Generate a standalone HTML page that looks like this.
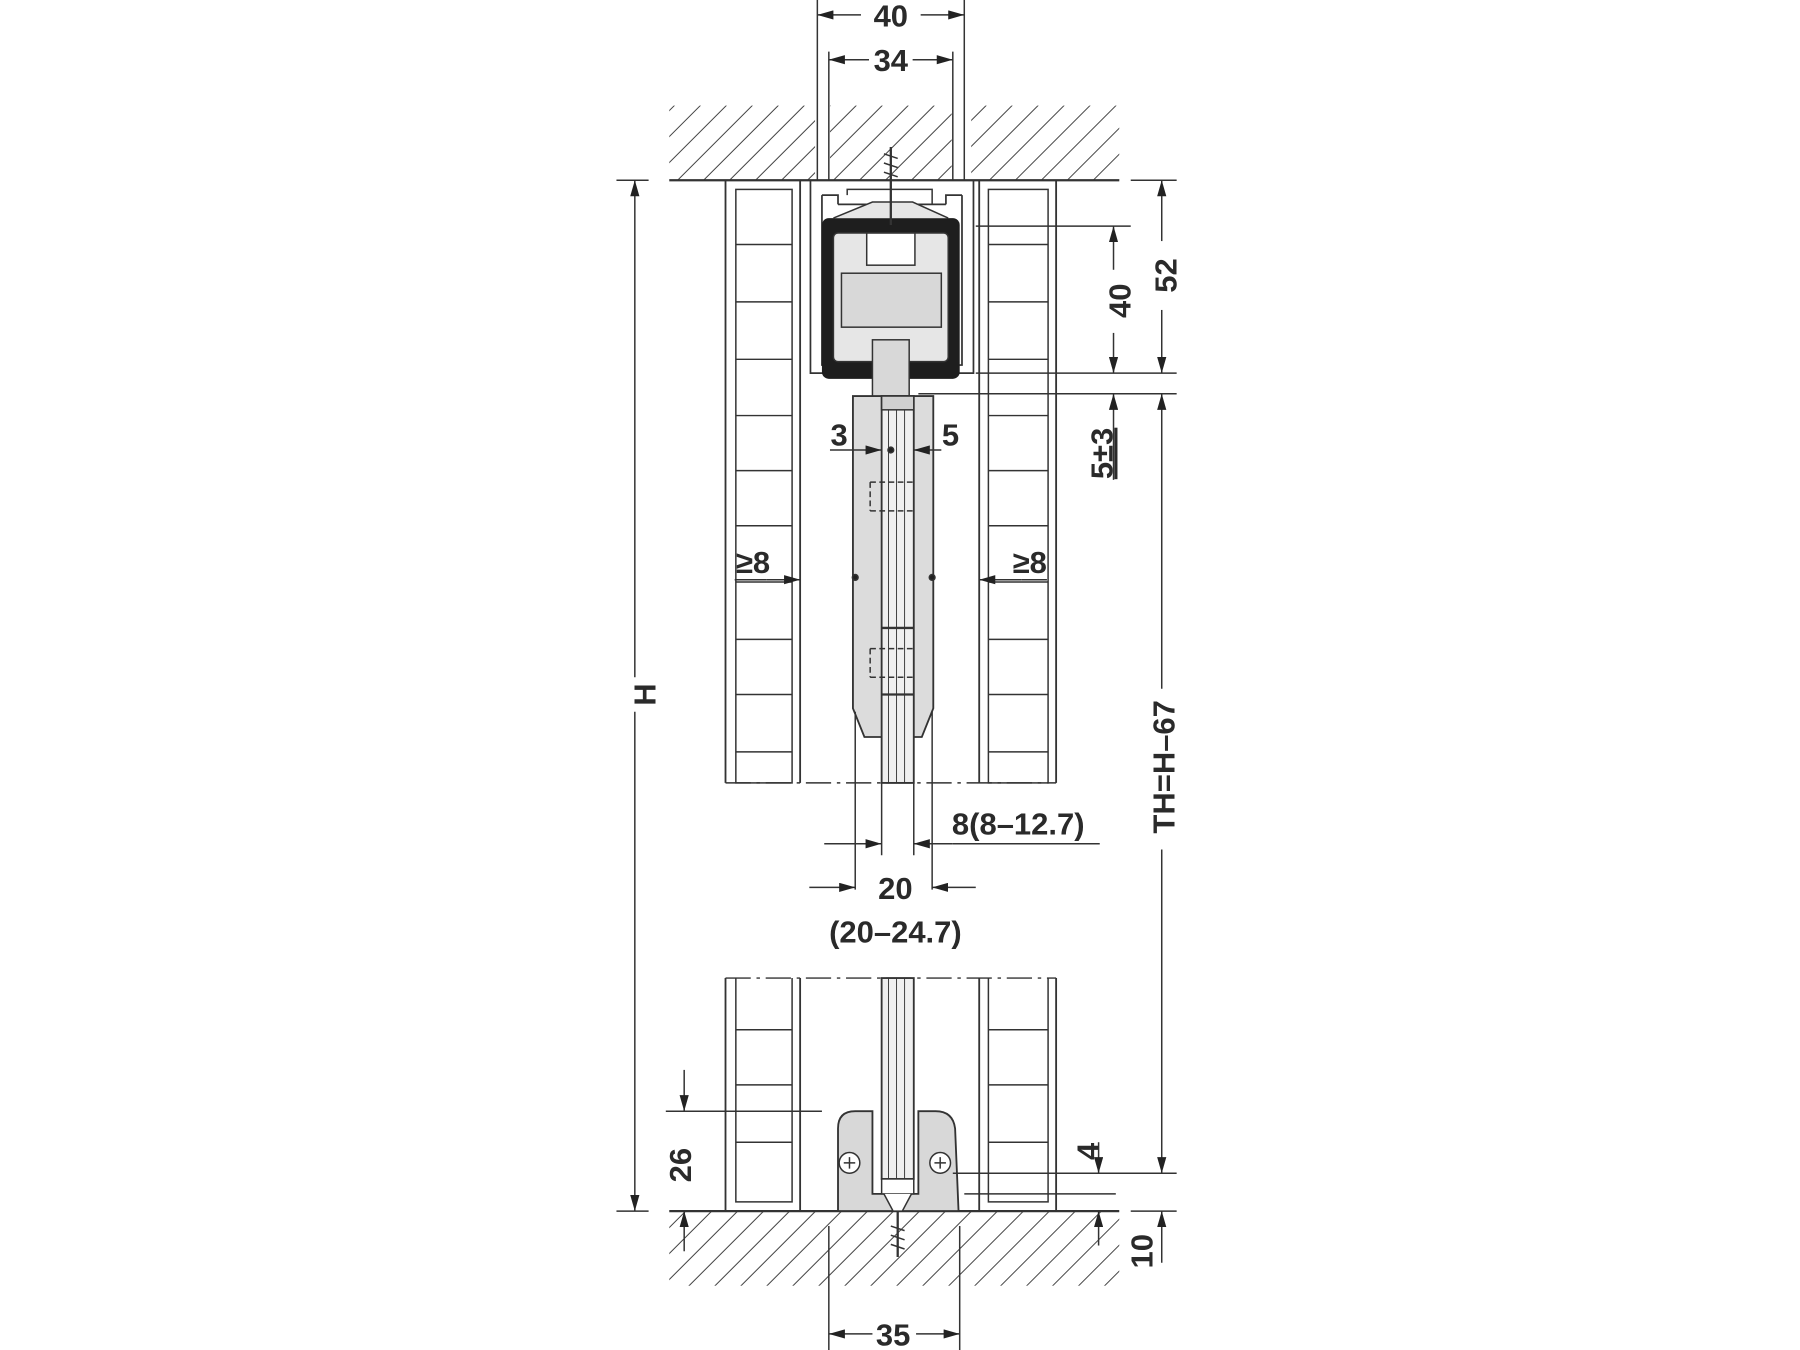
<!DOCTYPE html>
<html><head><meta charset="utf-8"><style>
html,body{margin:0;padding:0;background:#fff}
svg{display:block}
text{font-family:"Liberation Sans",sans-serif;font-weight:900;fill:#2a2a2a;font-size:27px}
</style></head><body>
<svg width="1800" height="1350" viewBox="0 0 1568 1176" xmlns="http://www.w3.org/2000/svg">
<defs>
<pattern id="h" patternUnits="userSpaceOnUse" width="16" height="16" patternTransform="rotate(45)">
<line x1="0" y1="0" x2="0" y2="16" stroke="#333" stroke-width="1.6"/>
</pattern>
<marker id="a" markerWidth="14" markerHeight="8" refX="14" refY="4" orient="auto" markerUnits="userSpaceOnUse">
<path d="M0,0 L14,4 L0,8 z" fill="#222"/></marker>
</defs>
<g stroke="#333" fill="none" stroke-width="1.3">
<rect x="583" y="92" width="127" height="65" fill="url(#h)" stroke="none"/>
<rect x="723" y="92" width="106" height="65" fill="url(#h)" stroke="none"/>
<rect x="846" y="92" width="129" height="65" fill="url(#h)" stroke="none"/>
<line x1="583" y1="157" x2="975" y2="157" stroke-width="2"/>
<rect x="583" y="1055" width="392" height="65" fill="url(#h)" stroke="none"/>
<line x1="583" y1="1055" x2="975" y2="1055" stroke-width="2"/>
<line x1="712" y1="0" x2="712" y2="157"/><line x1="840" y1="0" x2="840" y2="157"/>
<line x1="722" y1="45" x2="722" y2="157"/><line x1="830" y1="45" x2="830" y2="157"/>
<line x1="750" y1="13" x2="712" y2="13" marker-end="url(#a)"/><line x1="802" y1="13" x2="840" y2="13" marker-end="url(#a)"/>
<line x1="757" y1="52" x2="722" y2="52" marker-end="url(#a)"/><line x1="795" y1="52" x2="830" y2="52" marker-end="url(#a)"/>
<line x1="537" y1="157" x2="565" y2="157"/><line x1="537" y1="1055" x2="565" y2="1055"/>
<line x1="553" y1="590" x2="553" y2="157" marker-end="url(#a)"/><line x1="553" y1="620" x2="553" y2="1055" marker-end="url(#a)"/>
<g stroke-width="1.6">
<line x1="632" y1="157" x2="632" y2="682"/><line x1="697" y1="157" x2="697" y2="682"/>
<line x1="853" y1="157" x2="853" y2="682"/><line x1="920" y1="157" x2="920" y2="682"/>
<line x1="632" y1="852" x2="632" y2="1055"/><line x1="697" y1="852" x2="697" y2="1055"/>
<line x1="853" y1="852" x2="853" y2="1055"/><line x1="920" y1="852" x2="920" y2="1055"/>
</g>
<rect x="641" y="165" width="49" height="517"/><rect x="861" y="165" width="52" height="517"/>
<path d="M641 213H690M641 263H690M641 313H690M641 362H690M641 410H690M641 458H690M641 507H690M641 557H690M641 605H690M641 655H690"/>
<path d="M861 213H913M861 263H913M861 313H913M861 362H913M861 410H913M861 458H913M861 507H913M861 557H913M861 605H913M861 655H913"/>
<path d="M641 852V1047H690V852M641 897H690M641 945H690M641 995H690"/>
<path d="M861 852V1047H913V852M861 897H913M861 945H913M861 995H913"/>
<line x1="632" y1="682" x2="920" y2="682" stroke-dasharray="22,5,3,5"/>
<line x1="632" y1="852" x2="920" y2="852" stroke-dasharray="22,5,3,5"/>
<path d="M706 157V325H848V157M716 170V318H838V170M716 170H730V178M838 170H824V178M730 178H824" stroke-width="1.5"/>
<path d="M738 170V165H812V178" />
<rect x="716" y="190" width="120" height="140" rx="6" fill="#1e1e1e" stroke="none"/>
<rect x="726" y="203" width="100" height="112" rx="4" fill="#e6e6e6"/>
<path d="M726 190L760 176H795L826 190" fill="#e6e6e6"/>
<rect x="755" y="203" width="42" height="28" fill="#fff"/>
<rect x="733" y="238" width="87" height="47" fill="#d8d8d8"/>
<rect x="760" y="296" width="32" height="50" fill="#d8d8d8"/>
<path d="M776 128V196" stroke-width="2"/>
<path d="M770 134l12 4M770 142l12 4M770 150l12 4" />
<path d="M743 345H813V617L803 642H753L743 617Z" fill="#dcdcdc" stroke-width="1.6"/>
<rect x="768" y="345" width="28" height="337" fill="#efefef" stroke-width="1.6"/>
<path d="M774 355V682M781 355V682M788 355V682" stroke-width="0.8"/>
<rect x="768" y="345" width="28" height="12" fill="#d0d0d0"/>
<path d="M768 547H796M768 605H796" stroke-width="2"/>
<path d="M758 420h40M758 445h40M758 420v25M758 565h40M758 590h40M758 565v25" stroke-dasharray="5,3"/>
<circle cx="745" cy="503" r="2.5" fill="#222"/><circle cx="812" cy="503" r="2.5" fill="#222"/><circle cx="776" cy="392" r="2.5" fill="#222"/>
<line x1="723" y1="392" x2="768" y2="392" marker-end="url(#a)"/><line x1="820" y1="392" x2="796" y2="392" marker-end="url(#a)"/>
<line x1="668" y1="505" x2="697" y2="505" marker-end="url(#a)"/><line x1="890" y1="505" x2="853" y2="505" marker-end="url(#a)"/>
<line x1="640" y1="505" x2="668" y2="505"/><line x1="890" y1="505" x2="912" y2="505"/>
<path d="M768 682V745M796 682V745M745 620V775M812 620V775"/>
<line x1="718" y1="735" x2="745" y2="735"/><line x1="720" y1="735" x2="768" y2="735" marker-end="url(#a)"/>
<line x1="830" y1="735" x2="796" y2="735" marker-end="url(#a)"/><line x1="830" y1="735" x2="958" y2="735"/>
<line x1="705" y1="773" x2="745" y2="773" marker-end="url(#a)"/><line x1="850" y1="773" x2="812" y2="773" marker-end="url(#a)"/>
<path d="M730 1055V983Q730 968 745 968H760V1040H800V968H815Q830 968 832 983L835 1055Z" fill="#d8d8d8" stroke-width="1.6"/>
<rect x="768" y="852" width="28" height="175" fill="#efefef" stroke-width="1.6"/>
<path d="M774 852V1027M781 852V1027M788 852V1027" stroke-width="0.8"/>
<rect x="768" y="1027" width="28" height="13" fill="#fff"/>
<path d="M770 1040L778 1055H786L794 1040" fill="#fff"/>
<line x1="782" y1="1055" x2="782" y2="1095" stroke-width="2"/>
<path d="M776 1068l12 4M776 1076l12 4M776 1084l12 4"/>
<circle cx="740" cy="1013" r="9" fill="#fff"/><path d="M735 1013h10M740 1008v10"/>
<circle cx="819" cy="1013" r="9" fill="#fff"/><path d="M814 1013h10M819 1008v10"/>
<line x1="580" y1="968" x2="716" y2="968"/>
<line x1="596" y1="932" x2="596" y2="968" marker-end="url(#a)"/><line x1="596" y1="1090" x2="596" y2="1055" marker-end="url(#a)"/>
<line x1="722" y1="1068" x2="722" y2="1176"/><line x1="836" y1="1068" x2="836" y2="1176"/>
<line x1="760" y1="1162" x2="722" y2="1162" marker-end="url(#a)"/><line x1="798" y1="1162" x2="836" y2="1162" marker-end="url(#a)"/>
<line x1="850" y1="197" x2="985" y2="197"/>
<line x1="985" y1="157" x2="1025" y2="157"/>
<line x1="850" y1="325" x2="1025" y2="325"/>
<line x1="800" y1="343" x2="1025" y2="343"/>
<line x1="970" y1="235" x2="970" y2="197" marker-end="url(#a)"/><line x1="970" y1="290" x2="970" y2="325" marker-end="url(#a)"/>
<line x1="1012" y1="210" x2="1012" y2="157" marker-end="url(#a)"/><line x1="1012" y1="270" x2="1012" y2="325" marker-end="url(#a)"/>
<line x1="970" y1="418" x2="970" y2="343" marker-end="url(#a)"/>
<line x1="1012" y1="600" x2="1012" y2="343" marker-end="url(#a)"/><line x1="1012" y1="740" x2="1012" y2="1022" marker-end="url(#a)"/>
<line x1="830" y1="1022" x2="1025" y2="1022"/>
<line x1="840" y1="1040" x2="972" y2="1040"/>
<line x1="957" y1="995" x2="957" y2="1022" marker-end="url(#a)"/><line x1="957" y1="1085" x2="957" y2="1055" marker-end="url(#a)"/>
<line x1="985" y1="1055" x2="1025" y2="1055"/>
<line x1="1012" y1="1100" x2="1012" y2="1055" marker-end="url(#a)"/>
</g>
<g text-anchor="middle">
<text x="776" y="23">40</text>
<text x="776" y="62">34</text>
<text x="731" y="388">3</text>
<text x="828" y="388">5</text>
<text x="656" y="499">≥8</text>
<text x="897" y="499">≥8</text>
<text x="887" y="727">8(8–12.7)</text>
<text x="780" y="783">20</text>
<text x="780" y="821">(20–24.7)</text>
<text x="778" y="1172">35</text>
<text transform="translate(571,605) rotate(-90)">H</text>
<text transform="translate(985,262) rotate(-90)">40</text>
<text transform="translate(1025,240) rotate(-90)">52</text>
<text transform="translate(969,395) rotate(-90)" text-decoration="underline">5±3</text>
<text transform="translate(1023,668) rotate(-90)">TH=H–67</text>
<text transform="translate(957,1003) rotate(-90)">4</text>
<text transform="translate(1004,1090) rotate(-90)">10</text>
<text transform="translate(602,1015) rotate(-90)">26</text>
</g>
</svg>
</body></html>
